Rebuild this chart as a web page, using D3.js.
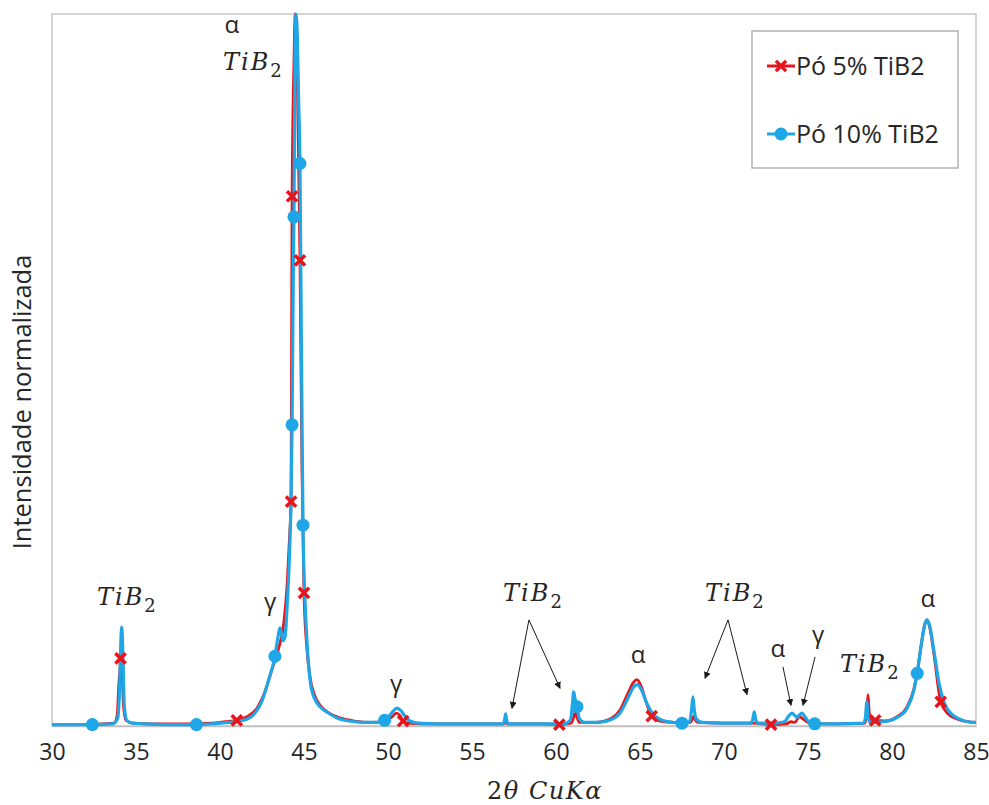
<!DOCTYPE html>
<html>
<head>
<meta charset="utf-8">
<script src="https://cdn.jsdelivr.net/npm/d3@7"></script>
<style>
  body { margin: 0; background: #fff; }
  text { font-family: "Open Sans", sans-serif; fill: #262626; }
  .math { font-family: "DejaVu Serif", serif; font-style: italic; }
</style>
</head>
<body>
<div id="chart"></div>
<script>
// 1: DATA -- [2theta, normalised intensity]
const xTicks = [30, 35, 40, 45, 50, 55, 60, 65, 70, 75, 80, 85];
const seriesNames = ["Pó 5% TiB2", "Pó 10% TiB2"];

const powder5 = [
  [30.0,0.002],[31.5,0.002],[33.0,0.003],[33.7,0.004],[33.88,0.015],[33.98,0.06],[34.08,0.095],[34.1,0.11],
  [34.16,0.09],[34.25,0.03],[34.4,0.008],[34.8,0.004],[36,0.003],[38,0.003],[39.5,0.004],[40.3,0.006],
  [41.0,0.008],[41.6,0.013],[42.2,0.025],[42.7,0.05],[43.1,0.08],[43.5,0.11],[43.8,0.145],[44.0,0.2],
  [44.15,0.27],[44.23,0.315],[44.29,0.744],[44.4,0.93],[44.48,1.0],[44.56,0.96],[44.66,0.82],[44.76,0.654],
  [44.88,0.36],[45.0,0.187],[45.15,0.115],[45.35,0.07],[45.6,0.045],[46.0,0.028],[46.5,0.018],[47.2,0.011],
  [48.0,0.007],[49.0,0.005],[49.8,0.006],[50.2,0.012],[50.5,0.018],[50.7,0.015],[50.9,0.007],[51.2,0.004],
  [52,0.003],[55,0.003],[56.9,0.003],[57.0,0.007],[57.1,0.003],[59,0.003],[60.2,0.002],[60.9,0.004],
  [61.05,0.012],[61.15,0.02],[61.25,0.012],[61.4,0.005],[62.3,0.005],[63.3,0.011],[63.8,0.022],[64.3,0.047],
  [64.6,0.061],[64.82,0.065],[65.05,0.057],[65.35,0.035],[65.7,0.014],[66.2,0.007],[67,0.005],[68.0,0.005],
  [68.12,0.01],[68.2,0.014],[68.28,0.009],[68.45,0.005],[70,0.004],[71.8,0.004],[72.8,0.002],[73.7,0.003],
  [74.0,0.006],[74.2,0.005],[74.5,0.013],[74.75,0.009],[75.1,0.004],[76.5,0.003],[78.4,0.004],[78.5,0.02],
  [78.57,0.044],[78.64,0.02],[78.75,0.008],[79.0,0.008],[79.6,0.007],[80.3,0.013],[80.9,0.027],[81.3,0.052],
  [81.5,0.075],[81.75,0.116],[81.95,0.143],[82.08,0.149],[82.25,0.138],[82.5,0.1],[82.9,0.034],[83.3,0.018],
  [84,0.009],[84.5,0.006],[85,0.005]
];

const powder10 = [
  [30.0,0.002],[31.0,0.002],[32.4,0.002],[33.6,0.003],[33.9,0.01],[34.02,0.05],[34.1,0.12],[34.15,0.139],
  [34.22,0.1],[34.3,0.03],[34.45,0.008],[34.8,0.004],[35.5,0.003],[37,0.002],[38.6,0.002],[39.5,0.003],
  [40.5,0.005],[41.4,0.008],[42.0,0.016],[42.5,0.035],[42.9,0.065],[43.27,0.098],[43.45,0.125],[43.57,0.138],
  [43.65,0.13],[43.75,0.12],[43.87,0.125],[44.0,0.17],[44.15,0.25],[44.23,0.32],[44.29,0.423],[44.35,0.6],
  [44.4,0.715],[44.46,0.92],[44.52,1.0],[44.6,0.97],[44.68,0.88],[44.76,0.79],[44.85,0.52],[44.94,0.282],
  [45.06,0.177],[45.2,0.11],[45.36,0.065],[45.6,0.04],[46.0,0.026],[46.4,0.019],[47.0,0.011],[47.7,0.007],
  [48.5,0.005],[49.3,0.005],[49.8,0.008],[50.1,0.015],[50.35,0.022],[50.54,0.025],[50.75,0.022],[51.0,0.014],
  [51.3,0.007],[51.8,0.004],[53,0.003],[55,0.003],[56.85,0.003],[56.95,0.01],[57.0,0.017],[57.05,0.01],
  [57.15,0.003],[59,0.003],[60.5,0.003],[60.85,0.008],[60.98,0.03],[61.05,0.048],[61.12,0.04],[61.25,0.027],
  [61.4,0.01],[61.7,0.005],[62.5,0.005],[63.3,0.009],[63.8,0.018],[64.3,0.04],[64.6,0.054],[64.85,0.058],
  [65.1,0.05],[65.4,0.032],[65.8,0.016],[66.3,0.008],[67.0,0.005],[67.5,0.004],[67.95,0.006],[68.08,0.025],
  [68.15,0.041],[68.22,0.025],[68.35,0.01],[68.7,0.005],[70,0.004],[71.6,0.004],[71.72,0.01],[71.8,0.02],
  [71.88,0.01],[72.0,0.004],[73.0,0.004],[73.6,0.006],[73.85,0.014],[74.05,0.018],[74.2,0.015],[74.35,0.012],
  [74.5,0.016],[74.64,0.018],[74.85,0.012],[75.05,0.006],[75.4,0.003],[76.5,0.003],[78.3,0.004],[78.42,0.012],
  [78.5,0.034],[78.58,0.012],[78.7,0.005],[79.5,0.006],[80.3,0.012],[80.9,0.025],[81.3,0.05],[81.5,0.074],
  [81.75,0.115],[81.95,0.142],[82.08,0.149],[82.25,0.14],[82.5,0.105],[82.8,0.06],[83.1,0.033],[83.5,0.018],
  [84.0,0.01],[84.5,0.006],[85.0,0.005]
];

// which data points carry a marker (2theta values)
const markers5 = [34.08, 41.0, 44.23, 44.29, 44.76, 45.0, 50.9, 60.2, 65.7, 72.8, 79.0, 82.9];
const markers10 = [32.4, 38.6, 43.27, 44.29, 44.4, 44.76, 44.94, 49.8, 61.25, 67.5, 75.4, 81.5];

// phase labels: [text, 2theta, intensity]
const greekLabels = [
  ["α", 40.71, 0.973], ["γ", 42.98, 0.163], ["γ", 50.48, 0.048], ["α", 64.88, 0.088],
  ["α", 73.21, 0.097], ["γ", 75.6, 0.117], ["α", 82.14, 0.167]
];
const tib2Labels = [[40.18, 0.921], [32.68, 0.170], [56.85, 0.176], [68.87, 0.176], [76.9, 0.076]];
// arrows: [from 2theta, from I, to 2theta, to I]
const arrows = [
  [58.39, 0.149, 57.38, 0.025], [58.39, 0.149, 60.24, 0.053],
  [70.24, 0.149, 68.87, 0.067], [70.24, 0.149, 71.37, 0.044],
  [73.51, 0.083, 73.99, 0.029], [75.42, 0.097, 74.7, 0.029]
];

// 2: SETUP
const W = 989, H = 805;
const margin = { top: 14, right: 13, bottom: 79, left: 52 };
const width = W - margin.left - margin.right;
const height = H - margin.top - margin.bottom;

const svg = d3.select("#chart").append("svg")
    .attr("width", W)
    .attr("height", H);

const defs = svg.append("defs");
defs.append("marker")
    .attr("id", "arrow")
    .attr("viewBox", "0 0 10 10")
    .attr("refX", 9).attr("refY", 5)
    .attr("markerWidth", 7).attr("markerHeight", 7)
    .attr("markerUnits", "userSpaceOnUse")
    .attr("orient", "auto")
    .append("path")
    .attr("d", "M0,0 L10,5 L0,10 z")
    .attr("fill", "#1a1a1a");

const g = svg.append("g")
    .attr("transform", `translate(${margin.left},${margin.top})`);

// 3: SCALES
const xScale = d3.scaleLinear().domain([30, 85]).range([0, width]);
const yScale = d3.scaleLinear().domain([0, 1]).range([height, 0]);

const colors = { p5: "#e8141b", p10: "#1ea6e6" };

// plot frame
g.append("rect")
    .attr("width", width)
    .attr("height", height)
    .attr("fill", "none")
    .attr("stroke", "#bfbfbf")
    .attr("stroke-width", 1.3);

// 4: AXIS
g.append("g")
    .attr("class", "x-axis")
    .attr("transform", `translate(0,${height})`)
    .call(d3.axisBottom(xScale).tickValues(xTicks).tickSize(0).tickPadding(18))
    .call(a => a.select(".domain").attr("stroke", "#bfbfbf").attr("stroke-width", 1.3))
    .selectAll("text")
    .style("font-family", "'Open Sans', sans-serif")
    .style("font-size", "23px")
    .attr("fill", "#222");

// 5: LINES
const line = d3.line()
    .x(d => xScale(d[0]))
    .y(d => yScale(d[1]))
    .curve(d3.curveMonotoneX);

const plot = g.append("g");

plot.append("path")
    .datum(powder5)
    .attr("d", line)
    .attr("fill", "none")
    .attr("stroke", colors.p5)
    .attr("stroke-width", 2.8)
    .attr("stroke-linejoin", "round");

plot.append("path")
    .datum(powder10)
    .attr("d", line)
    .attr("fill", "none")
    .attr("stroke", colors.p10)
    .attr("stroke-width", 3.2)
    .attr("stroke-linejoin", "round");

// 6: MARKERS
const xSymbol = d3.symbol(d3.symbolX, 70);
const pick = (series, xs) => xs.map(x => series.find(p => p[0] === x));

plot.selectAll(".m5")
    .data(pick(powder5, markers5))
    .enter().append("path")
    .attr("class", "m5")
    .attr("transform", d => `translate(${xScale(d[0])},${yScale(d[1])})`)
    .attr("d", xSymbol)
    .attr("fill", "none")
    .attr("stroke", colors.p5)
    .attr("stroke-width", 3.5);

plot.selectAll(".m10")
    .data(pick(powder10, markers10))
    .enter().append("circle")
    .attr("class", "m10")
    .attr("cx", d => xScale(d[0]))
    .attr("cy", d => yScale(d[1]))
    .attr("r", 6.5)
    .attr("fill", colors.p10);

// 7: ANNOTATIONS
g.selectAll(".greek")
    .data(greekLabels)
    .enter().append("text")
    .attr("class", "greek")
    .attr("x", d => xScale(d[1]))
    .attr("y", d => yScale(d[2]))
    .attr("text-anchor", "middle")
    .style("font-size", "24px")
    .text(d => d[0]);

const tib = g.selectAll(".tib")
    .data(tib2Labels)
    .enter().append("text")
    .attr("class", "tib math")
    .attr("x", d => xScale(d[0]))
    .attr("y", d => yScale(d[1]))
    .style("font-size", "24px")
    .style("letter-spacing", "2px");
tib.append("tspan").text("TiB");
tib.append("tspan")
    .attr("dy", 7)
    .style("font-size", "18px")
    .style("font-style", "normal")
    .text("2");

g.selectAll(".arrow")
    .data(arrows)
    .enter().append("line")
    .attr("class", "arrow")
    .attr("x1", d => xScale(d[0]))
    .attr("y1", d => yScale(d[1]))
    .attr("x2", d => xScale(d[2]))
    .attr("y2", d => yScale(d[3]))
    .attr("stroke", "#1a1a1a")
    .attr("stroke-width", 1)
    .attr("marker-end", "url(#arrow)");

// 8: AXIS TITLES
const xt = svg.append("text")
    .attr("x", 545)
    .attr("y", 799)
    .attr("text-anchor", "middle")
    .attr("class", "math")
    .style("font-size", "24px")
    .style("letter-spacing", "1.5px");
xt.append("tspan").style("font-style", "normal").text("2");
xt.append("tspan").text("θ CuKα");

svg.append("text")
    .attr("transform", "rotate(-90)")
    .attr("x", -402)
    .attr("y", 31)
    .attr("text-anchor", "middle")
    .style("font-size", "25.5px")
    .text("Intensidade normalizada");

// 9: LEGEND
const legend = svg.append("g").attr("transform", "translate(752,31)");
legend.append("rect")
    .attr("width", 206)
    .attr("height", 137)
    .attr("fill", "#fff")
    .attr("stroke", "#a6a6a6")
    .attr("stroke-width", 1.3);

const items = legend.selectAll(".legend-item")
    .data(seriesNames)
    .enter().append("g")
    .attr("class", "legend-item")
    .attr("transform", (d, i) => `translate(0,${35 + i * 68})`);

items.append("line")
    .attr("x1", 15).attr("x2", 43)
    .attr("stroke", (d, i) => i === 0 ? colors.p5 : colors.p10)
    .attr("stroke-width", 3);

items.filter((d, i) => i === 0).append("path")
    .attr("transform", "translate(29,0)")
    .attr("d", xSymbol)
    .attr("fill", "none")
    .attr("stroke", colors.p5)
    .attr("stroke-width", 3.5);

items.filter((d, i) => i === 1).append("circle")
    .attr("cx", 29)
    .attr("r", 6.5)
    .attr("fill", colors.p10);

items.append("text")
    .attr("x", 44)
    .attr("y", 9)
    .style("font-size", "25px")
    .text(d => d);
</script>
</body>
</html>
